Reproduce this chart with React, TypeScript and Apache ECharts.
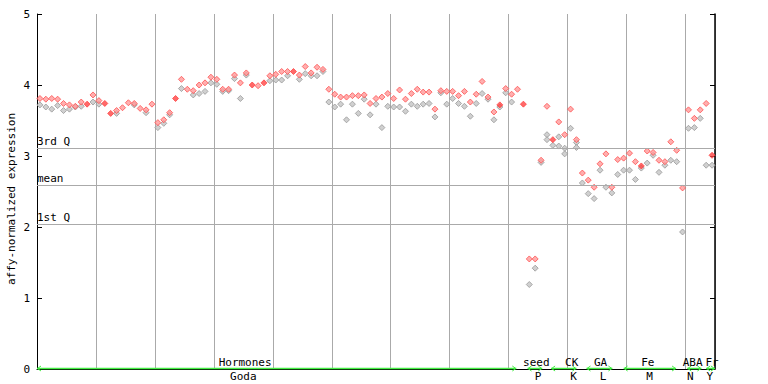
import React, { useEffect, useRef } from "react";
import * as echarts from "echarts";

// expression values per sample (index = sample position on x axis)
const hormonesValues: number[][] = [
  [3.81, 3.72], [3.80, 3.69], [3.81, 3.66], [3.80, 3.71], [3.74, 3.64],
  [3.72, 3.66], [3.70, 3.69], [3.76, 3.70], [3.73], [3.86, 3.76],
  [3.78, 3.73], [3.74], [3.60], [3.64, 3.60], [3.68],
  [3.75], [3.74, 3.72], [3.67], [3.65, 3.61], [3.73],
  [3.47, 3.40], [3.51, 3.46], [3.61, 3.58], [3.81], [4.08, 3.95],
  [3.94], [3.92, 3.86], [4.00, 3.88], [4.03, 3.91], [4.11, 4.03],
  [4.08, 4.01], [3.94, 3.91], [3.94, 3.92], [4.14, 4.09], [4.03, 3.81],
  [4.17, 4.14], [4.00], [3.99], [4.03], [4.13, 4.06],
  [4.15, 4.07], [4.19, 4.07], [4.19, 4.13], [4.19], [4.14, 4.08],
  [4.26, 4.16], [4.17, 4.13], [4.25, 4.13], [4.22, 4.19], [3.94, 3.76],
  [3.87, 3.69], [3.83, 3.73], [3.83, 3.51], [3.85, 3.73], [3.85, 3.60],
  [3.86, 3.80], [3.74, 3.58], [3.81, 3.73], [3.83, 3.40], [3.88, 3.70],
  [3.81, 3.69], [3.93, 3.69], [3.80, 3.63], [3.88, 3.73], [3.94, 3.70],
  [3.90, 3.73], [3.90, 3.74], [3.66, 3.55], [3.92, 3.89], [3.91, 3.73],
  [3.91, 3.81], [3.85, 3.74], [3.91, 3.70], [3.76, 3.56], [3.87, 3.74],
  [4.05, 3.88], [3.83, 3.80], [3.62, 3.51], [3.72, 3.69], [3.95, 3.89],
  [3.87, 3.76], [3.94], [3.73],
];
const seedValues: number[][] = [[1.55, 1.19], [1.55, 1.42], [2.94, 2.91]];
const ckValues: number[][] = [
  [3.70, 3.30, 3.23], [3.23, 3.15], [3.48, 3.27, 3.14], [3.30, 3.11, 3.03],
  [3.66, 3.39], [3.23, 3.19, 3.12],
];
const gaValues: number[][] = [[2.76, 2.62], [2.66, 2.47], [2.56, 2.40], [2.89, 2.80], [3.03, 2.56]];
const feValues: number[][] = [
  [2.56, 2.48], [2.95, 2.74], [2.97, 2.80], [3.04, 2.80], [2.92, 2.67],
  [2.86, 2.83], [3.07, 2.90], [3.05, 3.01], [2.94, 2.77], [2.92, 2.87],
  [3.20, 2.94], [3.08, 2.92],
];
const abaValues: number[][] = [[2.55, 1.93], [3.65, 3.39], [3.53, 3.40], [3.65, 3.53]];
const frValues: number[][] = [[3.74, 2.87], [3.01, 2.87]];

// samples whose first value is drawn as a solid marker
const solidSamples = [8, 11, 12, 23, 36, 38, 43, 78, 82, 87, 102, 114];

// reference lines
const refNames = ["3rd Q", "mean", "1st Q"];
const refValues = [3.11, 2.59, 2.04];

// groups along bottom (sample-index ranges and label centres)
const groupTop = ["Hormones", "seed", "CK", "GA", "Fe", "ABA", "Fr"];
const groupBottom = ["Goda", "P", "K", "L", "M", "N", "Y"];
const groupStart = [0, 83.2, 87.2, 93.2, 99.5, 110.3, 113.5];
const groupEnd = [81.3, 85.7, 91.5, 97.6, 108.4, 112.7, 115];
const topLabelAt = [35.3, 84.7, 90.7, 95.6, 103.6, 111.2, 114.5];
const bottomLabelAt = [35.0, 85.0, 91.0, 96.0, 103.9, 110.8, 114.1];

const yTicks = [0, 1, 2, 3, 4, 5];
const xMax = 115;
const yTitle = "affy-normalized expression";

const FONT = "11px 'DejaVu Sans Mono', monospace";

export default function App() {
  const ref = useRef<HTMLDivElement>(null);
  useEffect(() => {
    if (!ref.current) return;
    const chart = echarts.init(ref.current, null, { renderer: "svg" });
    const all = [
      ...hormonesValues, ...seedValues, ...ckValues, ...gaValues,
      ...feValues, ...abaValues, ...frValues,
    ];
    const red: number[][] = [];
    const gray: number[][] = [];
    const solid: number[][] = [];
    all.forEach((vals, i) => {
      vals.forEach((v, j) => {
        const p = [i + 0.5, v];
        if (j === 0 && solidSamples.includes(i)) solid.push(p);
        else if (j === 0) red.push(p);
        else gray.push(p);
      });
    });

    chart.setOption({
      animation: false,
      grid: {
        left: 37, right: 53, top: 14, bottom: 15,
        containLabel: false, outerBoundsMode: "none",
      },
      graphic: [
        {
          type: "text",
          x: 11,
          y: 199,
          rotation: Math.PI / 2,
          silent: true,
          style: {
            text: yTitle,
            font: FONT,
            fill: "#000",
            align: "center",
            verticalAlign: "middle",
          },
        },
      ],
      xAxis: {
        type: "value",
        min: 0,
        max: xMax,
        interval: 10,
        axisLine: { show: true, lineStyle: { color: "#000", width: 1 } },
        axisTick: { show: false },
        axisLabel: { show: false },
        splitLine: { show: true, lineStyle: { color: "#aaaaaa", width: 1 } },
      },
      yAxis: [
        {
          type: "value",
          min: yTicks[0],
          max: yTicks[yTicks.length - 1],
          interval: 1,
          axisLine: { show: true, lineStyle: { color: "#000", width: 1 } },
          axisTick: { show: true, inside: true, length: 5, lineStyle: { color: "#000" } },
          axisLabel: { fontFamily: "DejaVu Sans Mono", fontSize: 11, color: "#000", margin: 7 },
          splitLine: { show: false },
        },
        {
          type: "value",
          position: "right",
          min: yTicks[0],
          max: yTicks[yTicks.length - 1],
          interval: 1,
          axisLine: { show: true, lineStyle: { color: "#000", width: 1.5 } },
          axisTick: { show: true, inside: true, length: 5, lineStyle: { color: "#000" } },
          axisLabel: { show: false },
          splitLine: { show: false },
        },
      ],
      series: [
        {
          type: "scatter",
          data: [],
          silent: true,
          markLine: {
            silent: true,
            symbol: ["none", "none"],
            lineStyle: { color: "#aaaaaa", type: "solid", width: 1 },
            label: {
              show: true,
              position: "insideStartTop",
              formatter: "{b}",
              fontFamily: "DejaVu Sans Mono",
              fontSize: 11,
              color: "#000",
              distance: [0, 1],
            },
            emphasis: { disabled: true },
            data: refValues.map((v, i) => ({ yAxis: v, name: refNames[i] })),
          },
        },
        {
          type: "scatter",
          data: gray,
          symbol: "diamond",
          symbolSize: 6,
          silent: true,
          itemStyle: { color: "#c4c4c4", borderColor: "#999999", borderWidth: 1 },
        },
        {
          type: "scatter",
          data: red,
          symbol: "diamond",
          symbolSize: 6,
          silent: true,
          itemStyle: { color: "#ff9a9a", borderColor: "#ff5050", borderWidth: 1 },
        },
        {
          type: "scatter",
          data: solid,
          symbol: "diamond",
          symbolSize: 6,
          silent: true,
          itemStyle: { color: "#ff4444", borderColor: "#ff4444", borderWidth: 1 },
        },
        {
          type: "custom",
          silent: true,
          clip: false,
          data: groupStart.map((s, i) => [s, groupEnd[i]]),
          renderItem: (params: any, api: any) => {
            const i = params.dataIndex;
            const a = api.coord([groupStart[i], 0]);
            const b = api.coord([groupEnd[i], 0]);
            const tTop = api.coord([topLabelAt[i], 0]);
            const tBot = api.coord([bottomLabelAt[i], 0]);
            const y = a[1] - 0.5;
            const x0 = a[0];
            const x1 = b[0];
            const green = "#44ee44";
            return {
              type: "group",
              children: [
                {
                  type: "line",
                  shape: { x1: x0, y1: y, x2: x1, y2: y },
                  style: { stroke: green, lineWidth: 1.5 },
                },
                {
                  type: "polyline",
                  shape: { points: [[x0 + 4, y - 2.5], [x0 + 0.5, y], [x0 + 4, y + 2.5]] },
                  style: { stroke: green, lineWidth: 1, fill: null },
                },
                {
                  type: "polyline",
                  shape: { points: [[x1 - 4, y - 2.5], [x1 - 0.5, y], [x1 - 4, y + 2.5]] },
                  style: { stroke: green, lineWidth: 1, fill: null },
                },
                {
                  type: "text",
                  x: tTop[0],
                  y: y - 6,
                  style: {
                    text: groupTop[i],
                    font: FONT,
                    fill: "#000",
                    align: "center",
                    verticalAlign: "middle",
                  },
                },
                {
                  type: "text",
                  x: tBot[0],
                  y: y + 8,
                  style: {
                    text: groupBottom[i],
                    font: FONT,
                    fill: "#000",
                    align: "center",
                    verticalAlign: "middle",
                  },
                },
              ],
            };
          },
        },
      ],
    });
    return () => chart.dispose();
  }, []);
  return <div ref={ref} style={{ width: 768, height: 384, position: "absolute", left: 0, top: 0, background: "#fff" }} />;
}
